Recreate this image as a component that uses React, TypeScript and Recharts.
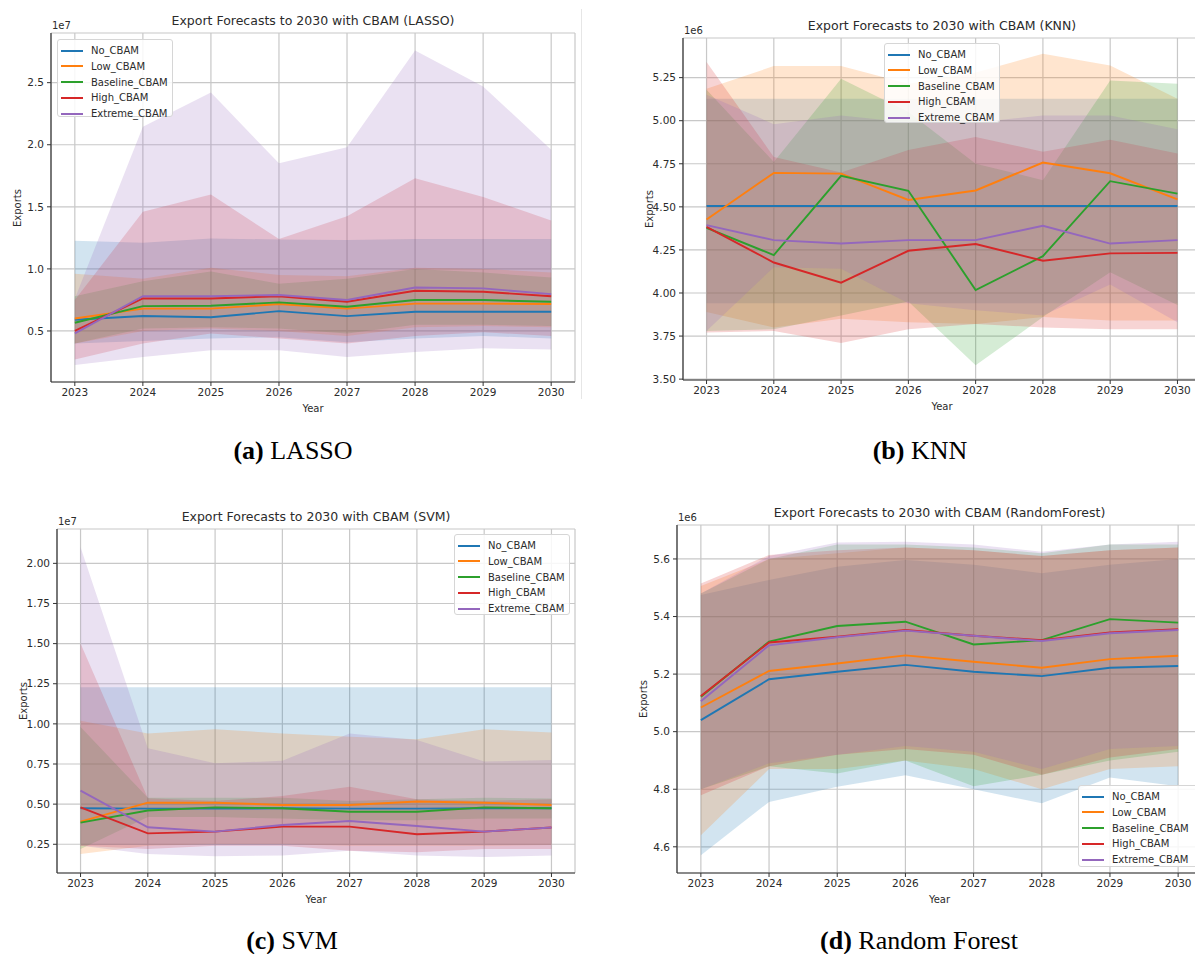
import {
  ComposedChart,
  Area,
  Line,
  XAxis,
  YAxis,
  CartesianGrid
} from 'recharts';

// ==========================================
// DATA
// ==========================================

const YEARS = [2023, 2024, 2025, 2026, 2027, 2028, 2029, 2030];
const SCENARIOS = ['No_CBAM', 'Low_CBAM', 'Baseline_CBAM', 'High_CBAM', 'Extreme_CBAM'];
const COLORS = ['#1f77b4', '#ff7f0e', '#2ca02c', '#d62728', '#9467bd'];
const Y_TICKS_LASSO = [0.5, 1.0, 1.5, 2.0, 2.5];
const Y_TICKS_KNN = [3.5, 3.75, 4.0, 4.25, 4.5, 4.75, 5.0, 5.25];
const Y_TICKS_SVM = [0.25, 0.5, 0.75, 1.0, 1.25, 1.5, 1.75, 2.0];
const Y_TICKS_RF = [4.6, 4.8, 5.0, 5.2, 5.4, 5.6];

// LASSO, x1e7 (rows follow SCENARIOS)
const lassoMean = [
  [0.59, 0.62, 0.61, 0.66, 0.62, 0.655, 0.655, 0.655],
  [0.6, 0.68, 0.68, 0.717, 0.68, 0.72, 0.72, 0.717],
  [0.566, 0.7, 0.703, 0.73, 0.695, 0.749, 0.749, 0.735],
  [0.5, 0.762, 0.762, 0.78, 0.735, 0.824, 0.816, 0.78],
  [0.48, 0.78, 0.78, 0.79, 0.749, 0.85, 0.843, 0.797]
];
const lassoLow = [
  [0.4, 0.42, 0.44, 0.45, 0.41, 0.44, 0.46, 0.44],
  [0.4, 0.5, 0.52, 0.5, 0.46, 0.53, 0.54, 0.53],
  [0.4, 0.52, 0.53, 0.52, 0.48, 0.55, 0.55, 0.54],
  [0.27, 0.4, 0.48, 0.44, 0.4, 0.46, 0.49, 0.46],
  [0.225, 0.29, 0.345, 0.345, 0.29, 0.33, 0.36, 0.35]
];
const lassoHigh = [
  [1.227, 1.21, 1.245, 1.237, 1.232, 1.24, 1.24, 1.24],
  [0.96, 0.92, 1.01, 0.95, 0.94, 1.01, 1.0, 0.97],
  [0.78, 0.9, 0.98, 0.88, 0.92, 1.0, 0.97, 0.93],
  [0.75, 1.46, 1.6, 1.24, 1.425, 1.73, 1.58, 1.39],
  [0.76, 2.145, 2.42, 1.85, 1.98, 2.76, 2.47, 1.96]
];

// KNN, x1e6
const knnMean = [
  [4.505, 4.505, 4.505, 4.505, 4.505, 4.505, 4.505, 4.505],
  [4.427, 4.697, 4.693, 4.54, 4.595, 4.757, 4.695, 4.543],
  [4.378, 4.22, 4.68, 4.593, 4.017, 4.214, 4.649, 4.577],
  [4.384, 4.177, 4.06, 4.245, 4.284, 4.187, 4.23, 4.233],
  [4.394, 4.307, 4.287, 4.307, 4.307, 4.39, 4.287, 4.307]
];
const knnLow = [
  [3.94, 3.94, 3.94, 3.94, 3.94, 3.94, 3.94, 3.94],
  [3.89, 3.8, 3.85, 3.83, 3.82, 3.86, 3.84, 3.84],
  [3.78, 3.79, 3.87, 3.95, 3.58, 3.86, 4.12, 3.93],
  [3.77, 3.78, 3.71, 3.79, 3.82, 3.8, 3.79, 3.79],
  [3.78, 4.15, 4.14, 3.94, 3.9, 3.87, 4.05, 3.83]
];
const knnHigh = [
  [5.128, 5.128, 5.128, 5.128, 5.128, 5.128, 5.128, 5.128],
  [5.186, 5.317, 5.317, 5.215, 5.28, 5.389, 5.32, 5.128],
  [5.18, 4.76, 5.244, 5.05, 4.75, 4.655, 5.234, 5.215],
  [5.34, 4.79, 4.7, 4.83, 4.906, 4.82, 4.89, 4.81],
  [5.15, 4.98, 5.03, 4.99, 4.99, 5.03, 5.03, 4.95]
];

// SVM, x1e7
const svmMean = [
  [0.474, 0.472, 0.472, 0.474, 0.472, 0.472, 0.474, 0.474],
  [0.391, 0.509, 0.509, 0.495, 0.495, 0.516, 0.509, 0.495],
  [0.385, 0.46, 0.48, 0.474, 0.453, 0.453, 0.48, 0.474],
  [0.48, 0.318, 0.329, 0.36, 0.36, 0.312, 0.329, 0.354],
  [0.584, 0.356, 0.329, 0.37, 0.395, 0.364, 0.329, 0.354]
];
const svmLow = [
  [0.246, 0.246, 0.246, 0.246, 0.246, 0.246, 0.246, 0.246],
  [0.19, 0.24, 0.25, 0.25, 0.24, 0.24, 0.24, 0.245],
  [0.22, 0.42, 0.42, 0.41, 0.4, 0.4, 0.41, 0.41],
  [0.24, 0.22, 0.24, 0.24, 0.21, 0.2, 0.22, 0.22],
  [0.24, 0.19, 0.175, 0.18, 0.21, 0.18, 0.17, 0.18]
];
const svmHigh = [
  [1.228, 1.228, 1.228, 1.228, 1.228, 1.228, 1.228, 1.228],
  [1.02, 0.94, 0.966, 0.94, 0.92, 0.904, 0.966, 0.947],
  [0.98, 0.54, 0.54, 0.54, 0.52, 0.53, 0.54, 0.535],
  [1.5, 0.536, 0.52, 0.55, 0.609, 0.53, 0.52, 0.53],
  [2.1, 0.848, 0.754, 0.77, 0.94, 0.9, 0.765, 0.775]
];

// Random Forest, x1e6
const rfMean = [
  [5.04, 5.182, 5.208, 5.232, 5.208, 5.193, 5.222, 5.228],
  [5.084, 5.211, 5.237, 5.265, 5.243, 5.222, 5.252, 5.264],
  [5.121, 5.313, 5.367, 5.382, 5.303, 5.318, 5.391, 5.379],
  [5.124, 5.31, 5.33, 5.353, 5.333, 5.318, 5.345, 5.356],
  [5.106, 5.3, 5.328, 5.351, 5.333, 5.315, 5.342, 5.353]
];
const rfLow = [
  [4.571, 4.756, 4.809, 4.849, 4.8, 4.751, 4.841, 4.81],
  [4.64, 4.87, 4.87, 4.9, 4.87, 4.8, 4.87, 4.88],
  [4.8, 4.88, 4.855, 4.9, 4.81, 4.85, 4.9, 4.93],
  [4.779, 4.88, 4.92, 4.94, 4.92, 4.85, 4.91, 4.94],
  [4.8, 4.89, 4.92, 4.95, 4.93, 4.87, 4.94, 4.95]
];
const rfHigh = [
  [5.475, 5.527, 5.573, 5.596, 5.58, 5.55, 5.58, 5.6],
  [5.506, 5.6, 5.62, 5.64, 5.63, 5.61, 5.63, 5.64],
  [5.48, 5.6, 5.65, 5.65, 5.64, 5.62, 5.65, 5.65],
  [5.515, 5.614, 5.63, 5.64, 5.63, 5.61, 5.63, 5.64],
  [5.48, 5.61, 5.657, 5.66, 5.65, 5.625, 5.65, 5.66]
];

// ==========================================
// HELPERS
// ==========================================

const FONT = '"DejaVu Sans", sans-serif';
const TEXT = '#2b2b2b';

function buildRows(mean: number[][], low: number[][], high: number[][]) {
  return YEARS.map((year, i) => {
    const row: any = { year };
    SCENARIOS.forEach((_, k) => {
      row['m' + k] = mean[k][i];
      row['b' + k] = [low[k][i], high[k][i]];
    });
    return row;
  });
}

type Rect = { left: number; top: number; width: number; height: number };
type Plot = { x0: number; y0: number; x1: number; y1: number };

type PanelProps = {
  title: string;
  power: string;
  mean: number[][];
  low: number[][];
  high: number[][];
  yDomain: [number, number];
  yTicks: number[];
  digits: number;
  box: Rect;
  plot: Plot;
  legend: Rect;
};

const Y_W = 40;
const X_H = 30;

function Legend({ box }: { box: Rect }) {
  return (
    <div
      style={{
        position: 'absolute',
        left: box.left,
        top: box.top,
        width: box.width,
        height: box.height,
        background: 'rgba(255,255,255,0.85)',
        border: '1px solid #d6d6d6',
        borderRadius: 3,
        boxSizing: 'border-box'
      }}
    >
      {SCENARIOS.map((s, k) => (
        <div
          key={s}
          style={{
            position: 'absolute',
            left: 3,
            top: 3 + k * 15.8,
            height: 15,
            display: 'flex',
            alignItems: 'center'
          }}
        >
          <div style={{ width: 22, height: 2, background: COLORS[k] }} />
          <span
            style={{
              marginLeft: 8,
              fontFamily: FONT,
              fontSize: 10,
              color: TEXT,
              whiteSpace: 'nowrap'
            }}
          >
            {s}
          </span>
        </div>
      ))}
    </div>
  );
}

function Panel(p: PanelProps) {
  const rows = buildRows(p.mean, p.low, p.high);
  const { box, plot } = p;
  const margin = {
    top: plot.y0 - box.top,
    left: plot.x0 - box.left - Y_W,
    right: box.width - (plot.x1 - box.left),
    bottom: box.height - (plot.y1 - box.top) - X_H
  };
  const cx = (plot.x0 + plot.x1) / 2;
  const cy = (plot.y0 + plot.y1) / 2;
  const tick = { fontSize: 10.5, fill: TEXT, fontFamily: FONT };

  return (
    <>
      <div style={{ position: 'absolute', left: box.left, top: box.top }}>
        <ComposedChart
          width={box.width}
          height={box.height}
          data={rows}
          margin={margin}
        >
          <CartesianGrid stroke="#c8c8c8" strokeWidth={1.2} />
          <XAxis
            dataKey="year"
            type="number"
            domain={[2022.65, 2030.35]}
            ticks={YEARS}
            allowDataOverflow
            height={X_H}
            tick={tick}
            tickSize={4}
            tickMargin={3}
            axisLine={{ stroke: '#333', strokeWidth: 1.2 }}
            tickLine={{ stroke: '#333' }}
          />
          <XAxis
            xAxisId="top"
            orientation="top"
            type="number"
            domain={[2022.65, 2030.35]}
            height={0}
            tick={false}
            tickLine={false}
            axisLine={{ stroke: '#333', strokeWidth: 1.2 }}
          />
          <YAxis
            type="number"
            domain={p.yDomain}
            ticks={p.yTicks}
            allowDataOverflow
            width={Y_W}
            tick={tick}
            tickSize={4}
            tickMargin={3}
            tickFormatter={(v: number) => v.toFixed(p.digits)}
            axisLine={{ stroke: '#333', strokeWidth: 1.2 }}
            tickLine={{ stroke: '#333' }}
          />
          <YAxis
            yAxisId="right"
            orientation="right"
            type="number"
            domain={p.yDomain}
            width={0}
            tick={false}
            tickLine={false}
            axisLine={{ stroke: '#333', strokeWidth: 1.2 }}
          />

          {SCENARIOS.map((s, k) => (
            <Area
              key={'b' + s}
              dataKey={'b' + k}
              type="linear"
              stroke="none"
              fill={COLORS[k]}
              fillOpacity={0.2}
              isAnimationActive={false}
              activeDot={false}
            />
          ))}

          {SCENARIOS.map((s, k) => (
            <Line
              key={'m' + s}
              dataKey={'m' + k}
              type="linear"
              stroke={COLORS[k]}
              strokeWidth={1.9}
              dot={false}
              isAnimationActive={false}
            />
          ))}
        </ComposedChart>
      </div>

      {/* TITLE */}
      <div
        style={{
          position: 'absolute',
          left: cx - 300,
          width: 600,
          top: plot.y0 - 20,
          textAlign: 'center',
          fontFamily: FONT,
          fontSize: 12.5,
          color: TEXT,
          whiteSpace: 'nowrap'
        }}
      >
        {p.title}
      </div>

      {/* OFFSET */}
      <div
        style={{
          position: 'absolute',
          left: plot.x0 + 1,
          top: plot.y0 - 13,
          fontFamily: FONT,
          fontSize: 10,
          color: TEXT
        }}
      >
        {p.power}
      </div>

      {/* Y LABEL */}
      <div
        style={{
          position: 'absolute',
          left: plot.x0 - 34,
          top: cy,
          transform: 'translate(-50%, -50%) rotate(-90deg)',
          fontFamily: FONT,
          fontSize: 10,
          color: TEXT
        }}
      >
        Exports
      </div>

      {/* X LABEL */}
      <div
        style={{
          position: 'absolute',
          left: cx,
          top: plot.y1 + 26,
          transform: 'translate(-50%, -50%)',
          fontFamily: FONT,
          fontSize: 10,
          color: TEXT
        }}
      >
        Year
      </div>

      <Legend box={p.legend} />
    </>
  );
}

function Caption({ x, y, tag, text }: { x: number; y: number; tag: string; text: string }) {
  return (
    <div
      style={{
        position: 'absolute',
        left: x - 200,
        width: 400,
        top: y - 15,
        lineHeight: '30px',
        textAlign: 'center',
        fontFamily: '"Liberation Serif", serif',
        fontSize: 26,
        color: '#000'
      }}
    >
      <b>{tag}</b> {text}
    </div>
  );
}

// ==========================================
// APP
// ==========================================

export default function App() {
  return (
    <div
      style={{
        position: 'fixed',
        left: 0,
        top: 0,
        width: 1195,
        height: 954,
        overflow: 'hidden',
        background: '#fff'
      }}
    >
      <Panel
        title="Export Forecasts to 2030 with CBAM (LASSO)"
        power="1e7"
        mean={lassoMean}
        low={lassoLow}
        high={lassoHigh}
        yDomain={[0.089, 2.9]}
        yTicks={Y_TICKS_LASSO}
        digits={1}
        box={{ left: 0, top: 0, width: 590, height: 430 }}
        plot={{ x0: 51, y0: 33, x1: 575, y1: 382 }}
        legend={{ left: 57, top: 39, width: 116, height: 78 }}
      />
      <Panel
        title="Export Forecasts to 2030 with CBAM (KNN)"
        power="1e6"
        mean={knnMean}
        low={knnLow}
        high={knnHigh}
        yDomain={[3.495, 5.48]}
        yTicks={Y_TICKS_KNN}
        digits={2}
        box={{ left: 600, top: 0, width: 612, height: 430 }}
        plot={{ x0: 683, y0: 38, x1: 1201, y1: 380 }}
        legend={{ left: 884, top: 43, width: 116, height: 80 }}
      />
      <Panel
        title="Export Forecasts to 2030 with CBAM (SVM)"
        power="1e7"
        mean={svmMean}
        low={svmLow}
        high={svmHigh}
        yDomain={[0.071, 2.214]}
        yTicks={Y_TICKS_SVM}
        digits={2}
        box={{ left: 0, top: 490, width: 590, height: 430 }}
        plot={{ x0: 57, y0: 529, x1: 575, y1: 873 }}
        legend={{ left: 454, top: 534, width: 116, height: 81 }}
      />
      <Panel
        title="Export Forecasts to 2030 with CBAM (RandomForest)"
        power="1e6"
        mean={rfMean}
        low={rfLow}
        high={rfHigh}
        yDomain={[4.509, 5.718]}
        yTicks={Y_TICKS_RF}
        digits={1}
        box={{ left: 600, top: 490, width: 612, height: 430 }}
        plot={{ x0: 677, y0: 525, x1: 1202, y1: 873 }}
        legend={{ left: 1078, top: 785, width: 120, height: 82 }}
      />

      {/* faint crop border */}
      <div
        style={{
          position: 'absolute',
          left: 581,
          top: 9,
          width: 1,
          height: 390,
          background: '#e6e6e6'
        }}
      />

      <Caption x={293} y={451} tag="(a)" text="LASSO" />
      <Caption x={920} y={451} tag="(b)" text="KNN" />
      <Caption x={292} y={941} tag="(c)" text="SVM" />
      <Caption x={919} y={941} tag="(d)" text="Random Forest" />
    </div>
  );
}
